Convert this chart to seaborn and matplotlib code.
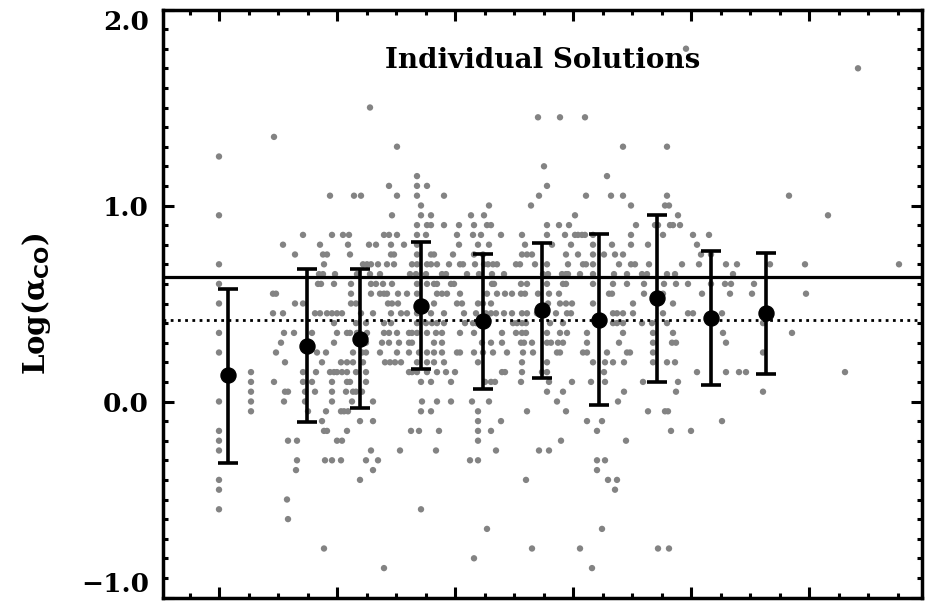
import numpy as np
import pandas as pd
import matplotlib
matplotlib.use("Agg")
import matplotlib.pyplot as plt
import seaborn as sns

# === Grey points: one row per Log(alpha_CO) level, x positions ===
# (x is in the unlabeled units of the horizontal axis; its tick labels are cut off in the original)
point_levels = [1.80, 1.70, 1.50, 1.45, 1.35, 1.30, 1.25, 1.20, 1.15, 1.10, 1.05, 1.00,
                0.95, 0.90, 0.85, 0.80, 0.75, 0.70, 0.65, 0.60, 0.55, 0.50, 0.45, 0.40,
                0.35, 0.30, 0.25, 0.20, 0.15, 0.10, 0.05, 0.00, -0.05, -0.10, -0.15,
                -0.20, -0.25, -0.30, -0.35, -0.40, -0.45, -0.50, -0.55, -0.60, -0.65,
                -0.75, -0.80, -0.85]
point_columns = [
    [686],
    [858],
    [370],
    [538, 560, 585],
    [274],
    [397, 623, 667],
    [219],
    [544],
    [417, 607],
    [389, 417, 427, 547],
    [330, 354, 361, 397, 417, 444, 539, 586, 611, 623, 667, 789],
    [421, 489, 531, 631, 665, 669],
    [219, 392, 421, 431, 471, 484, 575, 678, 828],
    [417, 427, 431, 444, 459, 474, 487, 491, 547, 559, 569, 636, 655, 658, 670, 673, 680],
    [303, 332, 343, 349, 384, 389, 397, 417, 426, 457, 473, 481, 501, 522, 547, 565, 575,
     578, 582, 585, 593, 631, 663, 693, 709],
    [283, 320, 348, 369, 376, 391, 404, 417, 459, 478, 489, 525, 552, 571, 593, 612, 631,
     648, 697],
    [295, 323, 327, 350, 391, 394, 417, 431, 434, 453, 474, 483, 522, 527, 532, 566, 578,
     593, 604, 615, 623, 701, 711],
    [219, 324, 363, 367, 371, 378, 387, 394, 412, 417, 427, 431, 437, 449, 460, 463, 475,
     484, 488, 493, 497, 516, 520, 535, 547, 568, 583, 586, 593, 619, 631, 635, 649, 682,
     699, 726, 737, 770, 805, 899],
    [319, 323, 335, 357, 370, 380, 410, 416, 426, 442, 446, 467, 479, 492, 504, 543, 548,
     562, 566, 568, 580, 593, 614, 627, 642, 647, 667, 675, 733],
    [219, 318, 321, 334, 351, 371, 376, 383, 392, 417, 427, 434, 437, 451, 454, 492, 494,
     521, 527, 547, 563, 566, 593, 613, 627, 644, 664, 676, 688, 711, 725, 731, 754],
    [273, 276, 351, 371, 380, 384, 387, 398, 407, 417, 437, 442, 447, 460, 487, 497, 505,
     512, 521, 525, 538, 549, 559, 609, 612, 644, 663, 702, 730, 752, 806],
    [219, 295, 303, 351, 356, 388, 392, 398, 434, 457, 462, 478, 483, 491, 548, 560, 566,
     572, 593, 633, 673],
    [273, 283, 315, 320, 327, 332, 337, 342, 361, 373, 391, 401, 407, 417, 431, 444, 464,
     476, 486, 491, 496, 504, 512, 522, 527, 537, 547, 556, 567, 571, 613, 617, 623, 633,
     663, 688, 693, 722],
    [334, 356, 366, 384, 391, 417, 426, 432, 437, 444, 465, 473, 476, 513, 517, 522, 526,
     550, 563, 613, 617, 623, 642, 652, 667, 763],
    [219, 284, 294, 312, 337, 347, 350, 357, 367, 384, 389, 397, 409, 412, 417, 427, 436,
     442, 460, 474, 502, 516, 522, 526, 547, 560, 567, 587, 623, 653, 673, 723, 792],
    [281, 305, 334, 366, 382, 389, 399, 409, 412, 434, 442, 482, 491, 502, 521, 524, 532,
     547, 551, 558, 563, 587, 619, 653, 672, 676, 726],
    [219, 276, 317, 326, 353, 362, 366, 380, 397, 409, 419, 427, 434, 442, 457, 460, 474,
     483, 493, 507, 523, 533, 557, 560, 583, 587, 607, 627, 630, 653, 763],
    [285, 322, 341, 347, 353, 363, 385, 390, 395, 401, 417, 427, 434, 444, 478, 522, 547,
     593, 605, 613, 624, 653, 667, 675],
    [251, 303, 316, 330, 334, 337, 342, 347, 356, 366, 409, 412, 417, 427, 437, 446, 455,
     502, 505, 522, 542, 547, 604, 697, 726, 739, 746, 845],
    [251, 274, 303, 312, 332, 347, 350, 366, 421, 431, 451, 485, 491, 495, 521, 549, 572,
     591, 605, 643, 678],
    [251, 285, 288, 305, 315, 332, 346, 353, 356, 362, 547, 563, 624, 676, 763],
    [219, 251, 284, 305, 332, 352, 373, 422, 437, 451, 472, 489, 557, 618],
    [251, 308, 326, 341, 344, 348, 421, 431, 478, 527, 566, 648, 665, 668],
    [322, 360, 373, 478, 501, 587, 602, 722],
    [219, 324, 327, 347, 411, 419, 439, 478, 491, 597, 671, 691],
    [219, 288, 297, 337, 342, 478, 561, 626],
    [219, 371, 400, 436, 496, 539, 549],
    [297, 325, 332, 341, 366, 378, 470, 478, 597, 605],
    [296, 373, 597],
    [219, 360, 526, 608, 617],
    [219, 615],
    [287],
    [219, 421],
    [288],
    [487, 602],
    [324, 532, 580, 658, 669],
    [474],
    [384, 592],
]

# === Binned means with their spread ===
bin_x = [228, 307, 360, 421, 483, 542, 599, 657, 711, 766]
bin_mean = [0.134, 0.283, 0.320, 0.489, 0.409, 0.467, 0.416, 0.527, 0.424, 0.453]
bin_top = [0.576, 0.674, 0.674, 0.812, 0.753, 0.810, 0.853, 0.952, 0.766, 0.758]
bin_bottom = [-0.312, -0.106, -0.035, 0.164, 0.062, 0.121, -0.019, 0.099, 0.083, 0.142]

# === Reference levels ===
solid_level = 0.637
dotted_level = 0.414

y_ticks = [-1.0, 0.0, 1.0, 2.0]
y_tick_labels = ["\u22121.0", "0.0", "1.0", "2.0"]

# build the long table for seaborn
rows = []
for lev, xs in zip(point_levels, point_columns):
    for xv in xs:
        rows.append({"x": xv, "log_aco": lev})
df = pd.DataFrame(rows)

sns.set_style("ticks")
plt.rcParams["font.family"] = ["DejaVu Serif", "DejaVu Sans"]
plt.rcParams["font.weight"] = "bold"
plt.rcParams["text.color"] = "black"
plt.rcParams["axes.labelcolor"] = "black"
plt.rcParams["xtick.color"] = "black"
plt.rcParams["ytick.color"] = "black"

fig = plt.figure(figsize=(9.26, 6.04), dpi=100)
ax = fig.add_axes([163 / 926, 6.5 / 604, 759 / 926, 588 / 604])

sns.scatterplot(data=df, x="x", y="log_aco", ax=ax, color="#838383", s=21,
                edgecolor="none", linewidth=0, zorder=2, legend=False)

ax.axhline(solid_level, color="black", lw=2.3, zorder=3)
ax.axhline(dotted_level, color="black", lw=2.0, ls=(0, (1, 1.6)), zorder=3)

yerr = [np.array(bin_mean) - np.array(bin_bottom), np.array(bin_top) - np.array(bin_mean)]
ax.errorbar(bin_x, bin_mean, yerr=yerr, fmt="o", color="black", ms=10.8,
            elinewidth=2.6, capsize=7.2, capthick=2.6, zorder=4)

ax.text(0.5, 0.914, "Individual Solutions", transform=ax.transAxes, ha="center",
        va="center", fontsize=20, fontweight="bold", color="black")

ax.set_xlim(163, 922)
ax.set_ylim(-1.0, 2.0)
ax.set_xticks(np.arange(219, 922, 118))
ax.set_xticks(np.arange(189.5, 922, 29.5), minor=True)
ax.set_xticklabels([])
ax.set_yticks(y_ticks)
ax.set_yticklabels(y_tick_labels, fontsize=19, fontweight="bold", color="black")
ax.set_yticks(np.arange(-1.0, 2.01, 0.1), minor=True)
ax.set_xlabel("")
ax.set_ylabel("Log(\u03b1$_{\\mathbf{CO}}$)", fontsize=21, fontweight="bold",
              color="black")
ax.yaxis.set_label_coords(-0.145, 0.5)

ax.tick_params(which="both", direction="in", top=True, right=True, width=2.2,
               color="black")
ax.tick_params(which="major", length=8, pad=10)
ax.tick_params(which="minor", length=3.6)
for sp in ax.spines.values():
    sp.set_linewidth(2.5)
    sp.set_color("black")

# the end labels sit inside the frame, like in the original
labels = ax.get_yticklabels()
labels[0].set_va("bottom")
labels[-1].set_va("top")

fig.savefig("out.png", dpi=100)
